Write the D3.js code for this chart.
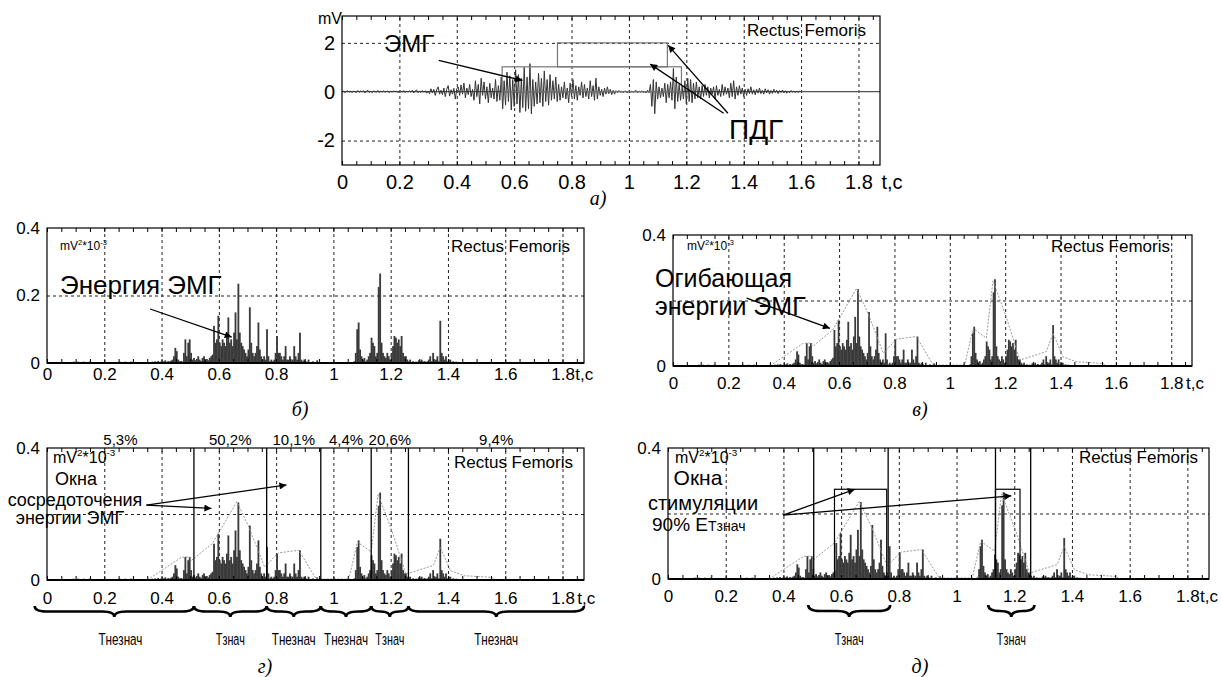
<!DOCTYPE html>
<html>
<head>
<meta charset="utf-8">
<script src="https://d3js.org/d3.v7.min.js"></script>
<style>
  body { margin: 0; background: #fff; }
  svg { display: block; }
  text { font-family: "Liberation Sans", Arial, sans-serif; fill: #000; }
  .narrow { font-family: "Liberation Sans Narrow", "Liberation Sans", Arial, sans-serif; }
  .cap { font-family: "Liberation Serif", "Times New Roman", serif; font-style: italic; font-size: 20px; }
</style>
</head>
<body>
<svg id="fig" width="1221" height="677"></svg>
<script>
// ---- data ----
const tDomain = [0, 1.875]
const xTicks = [0, 0.2, 0.4, 0.6, 0.8, 1, 1.2, 1.4, 1.6, 1.8]

// EMG, mV, one sample every 5 ms starting at t = 0
const emgStep = 0.005
const emg = [
  0,0.02,-0.03,0.01,0.04,-0.02,0.03,-0.04,0.02,0.01,
  -0.03,0.05,-0.02,0.03,-0.01,0.04,-0.05,0.02,0.06,-0.03,
  0.02,-0.04,0.03,0.01,-0.02,0.05,-0.03,0.02,-0.01,0.03,
  -0.02,0.01,0.03,-0.04,0.02,-0.02,0.04,-0.01,0.02,-0.03,
  0.01,0.03,-0.02,0.05,-0.04,0.02,-0.01,0.03,-0.02,0.06,
  -0.05,0.03,0.07,-0.04,0.02,-0.03,0.05,-0.02,0.04,-0.06,
  0.03,
  -0.08,0.12,-0.05,0.1,-0.15,0.08,0.2,-0.1,0.06,-0.12,
  0.15,-0.2,0.1,0.25,-0.18,0.08,-0.1,0.14,-0.3,0.12,
  0.2,-0.15,0.28,-0.1,0.35,-0.25,0.15,-0.12,0.3,-0.2,
  0.1,-0.35,0.45,-0.2,0.3,-0.5,0.55,-0.15,0.4,-0.3,
  0.2,-0.45,0.35,-0.25,0.15,-0.3,0.5,-0.4,0.25,-0.35,
  0.6,-0.7,0.45,-0.55,0.8,-0.4,0.65,-0.75,0.5,-0.6,
  0.9,-0.5,0.7,-0.85,0.55,-0.65,1.0,-0.8,0.6,-0.7,
  1.15,-0.9,0.5,-0.6,0.4,-0.5,0.75,-0.45,0.55,-0.6,
  0.85,-0.4,0.5,-0.55,0.7,-0.35,0.45,-0.3,0.6,-0.4,
  0.3,-0.35,0.2,-0.25,0.4,-0.3,0.15,-0.45,0.35,-0.2,
  0.5,-0.3,0.25,-0.35,0.2,-0.15,0.4,-0.25,0.3,-0.2,
  0.15,-0.3,0.45,-0.2,0.25,-0.35,0.55,-0.3,0.2,-0.15,
  0.1,-0.2,0.15,-0.1,0.2,-0.08,0.1,-0.12,0.06,-0.1,
  0.04,-0.03,0.05,-0.02,0.03,-0.04,0.02,0.03,-0.05,0.04,
  -0.02,0.03,-0.03,0.02,0.05,-0.04,0.03,-0.02,0.04,-0.03,
  0.02,-0.05,0.06,-0.04,
  0.3,-0.6,0.5,-0.9,0.4,-0.3,0.2,-0.25,0.15,-0.2,
  0.35,-0.45,0.3,-0.25,0.4,-0.35,0.95,-0.7,0.6,-0.4,
  0.3,-0.35,0.25,-0.3,0.45,-0.5,0.55,-0.4,0.5,-0.45,
  0.35,-0.3,0.4,-0.25,0.2,-0.3,
  0.25,-0.2,0.3,-0.15,0.2,-0.25,0.15,-0.1,0.2,-0.3,
  0.25,-0.15,0.1,-0.2,0.3,-0.15,0.2,-0.1,0.15,-0.25,
  0.35,-0.2,0.45,-0.3,0.2,-0.15,0.25,-0.1,0.15,-0.2,
  0.1,-0.15,0.12,-0.08,0.2,-0.1,0.08,-0.12,0.1,-0.06,
  0.15,-0.08,0.06,-0.1,0.12,-0.05,0.08,-0.1,0.05,-0.07,
  0.1,-0.04,0.06,-0.08,0.05,-0.03,0.07,-0.05,0.04,-0.06,
  0.03,-0.04,0.05,-0.02,0.03,-0.04,0.02,-0.03,0.02,0
]

// EMG energy, mV^2*10^-3, one bar every 5 ms starting at t = 0
const energyStep = 0.005
const energy = [
  0,0,0,0,0,0,0,0,0,0,0,0,0,0,0,0,
  0.003,0.002,0.004,0.003,0.002,0.004,0.003,0.002,0.003,0.004,0.002,0.003,0.002,0.004,0.003,0.002,0.003,
  0,0,0,0,0,0,0,0,0,0,0,0,0,0,0,
  0.002,0.003,0.004,0.002,0.003,0.002,0.004,0.003,0.002,0.003,0.004,0.002,0.003,0.002,0.003,0.002,0.003,
  0.001,0,0.001,0,0.002,0,0.001,
  0.002,0.004,0.003,0.005,0.002,0.006,0.003,0.004,0.002,0.005,0.008,0.003,0.006,0.004,0.007,0.01,
  0.02,0.045,0.035,0.01,0.005,0.006,0.004,
  0.03,0.07,0.02,0.06,0.07,0.03,0.01,0.015,
  0.008,0.012,0.02,0.01,0.006,0.015,0.02,0.01,0.012,0.008,0.015,0.02,0.025,
  0.11,0.06,0.07,0.14,0.06,0.05,0.07,0.06,0.05,0.08,0.135,0.06,0.07,0.05,0.09,0.15,0.07,0.235,0.09,0.06,0.05,0.04,
  0.03,0.02,0.04,0.165,0.06,0.03,0.02,0.03,0.05,0.12,0.04,0.02,0.01,0.02,0.01,0.1,0.02,0.005,0.01,0.005,0.01,0.03,0.08,
  0.03,0.03,0.02,0.01,0.02,0.05,0.01,0.01,0.02,0.005,
  0.01,0.05,0.02,0.01,0.03,0.09,0.01,0.005,0.01,0.005,
  0.003,0.01,0.003,0.002,0.005,0.002,0.002,0.008,0.002,0.002,
  0.001,0.002,0.001,0.001,0.003,0.001,0.002,0.001,0.001,0.002,0.001,0.001,0.002,0.001,0.001,0.001,0.002,0.001,0.001,0.002,0.001,0.002,0.003,0.005,
  0.03,0.1,0.12,0.04,0.02,0.01,0.015,0.005,0.01,0.02,0.03,0.075,0.06,0.05,0.02,0.03,0.225,0.265,0.06,0.03,
  0.02,0.015,0.03,0.02,0.01,0.03,0.05,0.08,0.075,0.06,0.07,0.05,0.08,0.03,0.02,0.02,
  0.01,0.005,0.01,0.003,0.005,0.002,0.004,0.003,0.008,0.005,
  0.01,0.004,0.006,0.003,0.005,0.01,0.02,0.005,0.03,0.005,
  0.01,0.02,0.005,0.125,0.03,0.02,0.01,0.02,0.005,0.01,
  0.01,0.003,0.005,0.002,0.004,0.002,0.003,0.002,0.003,0.002,
  0.002,0.003,0.002,0.002,0.003,0.002,0.002,0.003,0.002,0.002,
  0.002,0.003,0.002,0.002,0.002,0.003,0.002,0.002,0.002,0.002,
  0.002,0.002,0.003,0.002,0.002,0.002,0.002,0.002,0.001,0
]

// energy envelope, [t, value]
const envelope = [
  [0.35, 0], [0.47, 0.069], [0.495, 0.07], [0.505, 0.06], [0.577, 0.11], [0.663, 0.237],
  [0.705, 0.16], [0.76, 0.039], [0.807, 0.082], [0.879, 0.09], [0.94, 0.003], [1.054, 0.003],
  [1.084, 0.115], [1.132, 0.085], [1.156, 0.26], [1.204, 0.15], [1.253, 0.018], [1.349, 0.044],
  [1.373, 0.1], [1.409, 0.028], [1.457, 0.013], [1.553, 0.008], [1.566, 0]
]

// ПДГ step outline in panel а), [t1, t2, low, high]
const pdgBoxes = [[0.558, 1.183, 0, 1.02], [0.751, 1.134, 1.02, 2.0]]

// energy concentration windows (panel г)
const windowEdges = [0, 0.513, 0.767, 0.956, 1.132, 1.262, 1.875]
const windowShare = ['5,3%', '50,2%', '10,1%', '4,4%', '20,6%', '9,4%']
const windowKind = ['незнач', 'знач', 'незнач', 'незнач', 'знач', 'незнач']

// stimulation windows (panel д)
const stimEdges = [0.505, 0.763, 1.135, 1.257]
const stimBoxes = [[0.577, 0.758], [1.135, 1.22]]
const stimLevel = 0.274
const stimBraces = [[0.486, 0.77], [1.11, 1.27]]

// ---- drawing ----
const svg = d3.select('#fig')
svg.append('defs').append('marker')
    .attr('id', 'arrow')
    .attr('viewBox', '0 0 10 10')
    .attr('refX', 10).attr('refY', 5)
    .attr('markerWidth', 10).attr('markerHeight', 7)
    .attr('markerUnits', 'userSpaceOnUse')
    .attr('orient', 'auto')
  .append('path')
    .attr('d', 'M0,0 L10,5 L0,10 z')
    .attr('fill', '#000')

const minorTicks = d3.range(0, 1.876, 0.05)

function setupPanel(p) {
  const x = d3.scaleLinear().domain(tDomain).range([p.left, p.left + p.width])
  const y = d3.scaleLinear().domain(p.yDomain).range([p.top + p.height, p.top])
  const g = svg.append('g')
  const bottom = p.top + p.height

  // dotted grid
  g.append('g')
      .attr('transform', `translate(0,${bottom})`)
      .call(d3.axisBottom(x).tickValues(xTicks.filter(d => d > 0)).tickSize(-p.height).tickFormat(''))
      .call(s => s.select('.domain').remove())
    .selectAll('line')
      .attr('stroke', '#222')
      .attr('stroke-dasharray', '3,3')
  g.append('g')
      .attr('transform', `translate(${p.left},0)`)
      .call(d3.axisLeft(y).tickValues(p.yGrid).tickSize(-p.width).tickFormat(''))
      .call(s => s.select('.domain').remove())
    .selectAll('line')
      .attr('stroke', '#222')
      .attr('stroke-dasharray', '3,3')

  return { g, x, y, bottom, p }
}

function finishPanel(P) {
  const { g, x, y, bottom, p } = P
  // frame
  g.append('rect')
    .attr('x', p.left).attr('y', p.top)
    .attr('width', p.width).attr('height', p.height)
    .attr('fill', 'none').attr('stroke', '#000').attr('stroke-width', 1.2)
  // small inward ticks top and bottom
  g.append('g')
      .attr('transform', `translate(0,${bottom})`)
      .call(d3.axisBottom(x).tickValues(minorTicks).tickSize(-4).tickFormat(''))
      .call(s => s.select('.domain').remove())
    .selectAll('line').attr('stroke', '#000')
  g.append('g')
      .attr('transform', `translate(0,${p.top})`)
      .call(d3.axisTop(x).tickValues(minorTicks).tickSize(-4).tickFormat(''))
      .call(s => s.select('.domain').remove())
    .selectAll('line').attr('stroke', '#000')

  // tick labels
  const xa = g.append('g')
      .attr('transform', `translate(0,${bottom})`)
      .call(d3.axisBottom(x).tickValues(xTicks).tickSize(0).tickPadding(p.pad).tickFormat(d3.format('~g')))
      .attr('font-family', null).attr('font-size', p.font)
  xa.select('.domain').remove()
  g.append('text')
    .attr('x', x(1.8) + p.font * 0.75 + p.tcGap)
    .attr('y', bottom + p.pad)
    .attr('dy', '0.71em')
    .attr('font-size', p.font)
    .text('t,c')
  const ya = g.append('g')
      .attr('transform', `translate(${p.left},0)`)
      .call(d3.axisLeft(y).tickValues(p.yTicks).tickSize(0).tickPadding(7).tickFormat(d => String(d)))
      .attr('font-family', null).attr('font-size', p.font)
  ya.select('.domain').remove()
}

function label(g, txt, xx, yy, size, anchor) {
  return g.append('text')
    .attr('x', xx).attr('y', yy)
    .attr('font-size', size)
    .attr('text-anchor', anchor || 'start')
    .text(txt)
}

function unitsLabel(g, xx, yy, size) {
  const t = g.append('text').attr('x', xx).attr('y', yy).attr('font-size', size)
  t.append('tspan').text('mV')
  t.append('tspan').attr('font-size', size * 0.62).attr('dy', -size * 0.45).text('2')
  t.append('tspan').attr('dy', size * 0.45).text('*10')
  t.append('tspan').attr('font-size', size * 0.62).attr('dy', -size * 0.45).text('-3')
}

function arrow(P, from, to) {
  P.g.append('line')
    .attr('x1', P.x(from[0])).attr('y1', P.y(from[1]))
    .attr('x2', P.x(to[0])).attr('y2', P.y(to[1]))
    .attr('stroke', '#000').attr('stroke-width', 1.3)
    .attr('marker-end', 'url(#arrow)')
}

function drawEnergy(P, withEnvelope) {
  const { g, x, y } = P
  g.append('g').selectAll('rect')
    .data(energy)
    .join('rect')
      .attr('x', (d, i) => x(i * energyStep))
      .attr('width', x(energyStep) - x(0) + 0.4)
      .attr('y', d => y(d))
      .attr('height', d => y(0) - y(d))
      .attr('fill', '#3a3a3a')
  if (withEnvelope) {
    g.append('path')
      .datum(envelope)
      .attr('d', d3.line().x(d => x(d[0])).y(d => y(d[1])))
      .attr('fill', 'none')
      .attr('stroke', '#9a9a9a')
      .attr('stroke-width', 1)
      .attr('stroke-dasharray', '2,1.5')
  }
  g.append('line')
    .attr('x1', x(0)).attr('x2', x(tDomain[1]))
    .attr('y1', y(0)).attr('y2', y(0))
    .attr('stroke', '#000').attr('stroke-width', 2)
}

function brace(x1, x2, y0, h) {
  const xm = (x1 + x2) / 2
  const r = Math.min(12, (x2 - x1) / 4)
  const ym = y0 + h / 2
  const p = d3.path()
  p.moveTo(x1, y0)
  p.quadraticCurveTo(x1, ym, x1 + r, ym)
  p.lineTo(xm - r, ym)
  p.quadraticCurveTo(xm, ym, xm, y0 + h)
  p.quadraticCurveTo(xm, ym, xm + r, ym)
  p.lineTo(x2 - r, ym)
  p.quadraticCurveTo(x2, ym, x2, y0)
  return p.toString()
}

// condensed "Т..." labels under the braces, squeezed horizontally
const kindWidth = { 'незнач': 44, 'знач': 29 }
function tLabel(g, kind, xx, yy, size) {
  const t = g.append('text')
    .attr('class', 'narrow')
    .attr('text-anchor', 'middle')
    .attr('font-size', size)
    .text('Т' + kind)
  const w = t.node().getComputedTextLength()
  t.attr('transform', `translate(${xx},${yy}) scale(${kindWidth[kind] / w},1)`)
}

// ---- а) raw EMG ----
const A = setupPanel({ left: 342, top: 16, width: 538, height: 149, yDomain: [-3, 3.1], yTicks: [-2, 0, 2], yGrid: [-2, 2], font: 20, pad: 10, tcGap: 8 })
A.g.append('line')
  .attr('x1', A.x(0)).attr('x2', A.x(tDomain[1]))
  .attr('y1', A.y(0)).attr('y2', A.y(0))
  .attr('stroke', '#555').attr('stroke-width', 1.2)
A.g.append('path')
  .datum(emg)
  .attr('d', d3.line().x((d, i) => A.x(i * emgStep)).y(d => A.y(d)))
  .attr('fill', 'none')
  .attr('stroke', '#333')
  .attr('stroke-width', 1)
A.g.append('g').selectAll('rect')
  .data(pdgBoxes)
  .join('rect')
    .attr('x', d => A.x(d[0]))
    .attr('width', d => A.x(d[1]) - A.x(d[0]))
    .attr('y', d => A.y(d[3]))
    .attr('height', d => A.y(d[2]) - A.y(d[3]))
    .attr('fill', 'none')
    .attr('stroke', '#777')
    .attr('stroke-width', 1.2)
finishPanel(A)
label(A.g, 'mV', 318, 24, 16)
label(A.g, 'Rectus Femoris', 866, 36, 17, 'end')
label(A.g, 'ЭМГ', 384, 52, 24)
label(A.g, 'ПДГ', 729, 139, 28)
arrow(A, [0.337, 1.28], [0.629, 0.46])
arrow(A, [1.345, -0.88], [1.137, 1.9])
arrow(A, [1.33, -0.88], [1.074, 1.13])
svg.append('text').attr('class', 'cap').attr('x', 598).attr('y', 205).attr('text-anchor', 'middle').text('а)')

// ---- б) energy ----
const B = setupPanel({ left: 47, top: 228, width: 537, height: 135, yDomain: [0, 0.4], yTicks: [0, 0.2, 0.4], yGrid: [0.2], font: 17, pad: 5, tcGap: 0 })
drawEnergy(B, false)
finishPanel(B)
unitsLabel(B.g, 60, 250, 12)
label(B.g, 'Rectus Femoris', 570, 252, 17, 'end')
label(B.g, 'Энергия ЭМГ', 60, 294, 26)
arrow(B, [0.36, 0.16], [0.645, 0.077])
svg.append('text').attr('class', 'cap').attr('x', 300).attr('y', 416).attr('text-anchor', 'middle').text('б)')

// ---- в) energy envelope ----
const V = setupPanel({ left: 673, top: 235, width: 519, height: 131, yDomain: [0, 0.4], yTicks: [0, 0.4], yGrid: [0.2], font: 17, pad: 11, tcGap: 2 })
drawEnergy(V, true)
finishPanel(V)
unitsLabel(V.g, 687, 250, 12)
label(V.g, 'Rectus Femoris', 1170, 252, 17, 'end')
label(V.g, 'Огибающая', 655, 287, 25)
label(V.g, 'энергии ЭМГ', 655, 315, 25)
arrow(V, [0.266, 0.207], [0.567, 0.115])
svg.append('text').attr('class', 'cap').attr('x', 920).attr('y', 416).attr('text-anchor', 'middle').text('в)')

// ---- г) concentration windows ----
const G = setupPanel({ left: 47, top: 448, width: 537, height: 132, yDomain: [0, 0.4], yTicks: [0, 0.4], yGrid: [0.2], font: 17, pad: 12, tcGap: 2 })
drawEnergy(G, true)
G.g.append('g').selectAll('line')
  .data(windowEdges.slice(1, -1))
  .join('line')
    .attr('x1', d => G.x(d)).attr('x2', d => G.x(d))
    .attr('y1', G.y(0)).attr('y2', G.y(0.4))
    .attr('stroke', '#000').attr('stroke-width', 1.3)
finishPanel(G)
const gMids = d3.pairs(windowEdges).map(([a, b]) => (a + b) / 2)
G.g.append('g').selectAll('text')
  .data(windowShare)
  .join('text')
    .attr('x', (d, i) => G.x(gMids[i]))
    .attr('y', 445)
    .attr('text-anchor', 'middle')
    .attr('font-size', 15)
    .text(d => d)
G.g.append('g').selectAll('path')
  .data(d3.pairs(windowEdges))
  .join('path')
    .attr('d', ([a, b], i) => brace(G.x(i === 0 ? -0.043 : a), G.x(b), 606, 11))
    .attr('fill', 'none')
    .attr('stroke', '#000')
    .attr('stroke-width', 2.6)
windowKind.forEach((k, i) => tLabel(G.g, k, G.x(gMids[i]), 645, 17))
unitsLabel(G.g, 53, 463, 16)
label(G.g, 'Rectus Femoris', 573, 468, 17, 'end')
label(G.g, 'Окна', 76, 485, 18, 'middle')
label(G.g, 'сосредоточения', 75, 506, 18, 'middle')
label(G.g, 'энергии ЭМГ', 70, 524, 18, 'middle')
arrow(G, [0.347, 0.227], [0.836, 0.288])
arrow(G, [0.347, 0.227], [0.574, 0.217])
svg.append('text').attr('class', 'cap').attr('x', 265).attr('y', 673).attr('text-anchor', 'middle').text('г)')

// ---- д) stimulation windows ----
const D = setupPanel({ left: 668, top: 448, width: 541, height: 131, yDomain: [0, 0.4], yTicks: [0, 0.4], yGrid: [0.2], font: 17, pad: 11, tcGap: 0 })
drawEnergy(D, true)
D.g.append('g').selectAll('line')
  .data(stimEdges)
  .join('line')
    .attr('x1', d => D.x(d)).attr('x2', d => D.x(d))
    .attr('y1', D.y(0)).attr('y2', D.y(0.4))
    .attr('stroke', '#000').attr('stroke-width', 1.3)
D.g.append('g').selectAll('rect')
  .data(stimBoxes)
  .join('rect')
    .attr('x', d => D.x(d[0]))
    .attr('width', d => D.x(d[1]) - D.x(d[0]))
    .attr('y', D.y(stimLevel))
    .attr('height', D.y(0) - D.y(stimLevel))
    .attr('fill', 'none')
    .attr('stroke', '#000')
    .attr('stroke-width', 1.2)
finishPanel(D)
D.g.append('g').selectAll('path')
  .data(stimBraces)
  .join('path')
    .attr('d', d => brace(D.x(d[0]), D.x(d[1]), 605, 12))
    .attr('fill', 'none')
    .attr('stroke', '#000')
    .attr('stroke-width', 2.6)
stimBraces.forEach(d => tLabel(D.g, 'знач', D.x((d[0] + d[1]) / 2), 645, 17))
unitsLabel(D.g, 675, 463, 16)
label(D.g, 'Rectus Femoris', 1198, 463, 17, 'end')
label(D.g, 'Окна', 698, 485, 21, 'middle')
label(D.g, 'стимуляции', 703, 510, 20, 'middle')
const e90 = D.g.append('text').attr('x', 652).attr('y', 531).attr('font-size', 19)
e90.append('tspan').text('90% E')
e90.append('tspan').attr('class', 'narrow').attr('font-size', 14).text('Тзнач')
arrow(D, [0.399, 0.195], [0.647, 0.274])
arrow(D, [0.399, 0.195], [1.19, 0.254])
svg.append('text').attr('class', 'cap').attr('x', 920).attr('y', 673).attr('text-anchor', 'middle').text('д)')
</script>
</body>
</html>
